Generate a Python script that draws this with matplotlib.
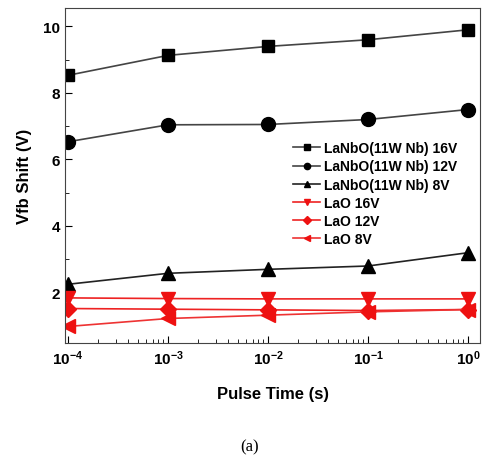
import matplotlib
matplotlib.use("Agg")
import matplotlib.pyplot as plt
from matplotlib.ticker import MultipleLocator, LogLocator, NullFormatter

pulse_time = [1e-4, 1e-3, 1e-2, 1e-1, 1e0]
lanbo_16 = [8.53, 9.13, 9.40, 9.60, 9.90]
lanbo_12 = [6.53, 7.04, 7.05, 7.20, 7.50]
lanbo_8 = [2.24, 2.57, 2.69, 2.79, 3.19]
lao_16 = [1.83, 1.81, 1.80, 1.80, 1.80]
lao_12 = [1.51, 1.49, 1.47, 1.45, 1.48]
lao_8 = [0.97, 1.21, 1.31, 1.41, 1.48]
labels = ["LaNbO(11W Nb) 16V", "LaNbO(11W Nb) 12V", "LaNbO(11W Nb) 8V",
          "LaO 16V", "LaO 12V", "LaO 8V"]

plt.rcParams['font.family'] = ['Liberation Sans', 'DejaVu Sans']

fig = plt.figure(figsize=(4.83, 4.60), dpi=100)
ax = fig.add_axes([0.1346, 0.252, 0.8592, 0.728])

series = [
    (lanbo_16, 's', '#000000', '#444444', 9),
    (lanbo_12, 'o', '#000000', '#444444', 10),
    (lanbo_8, '^', '#000000', '#222222', 10),
    (lao_16, 'v', '#ee1111', '#ee2222', 10),
    (lao_12, 'D', '#ee1111', '#ee2222', 8),
    (lao_8, '<', '#ee1111', '#ee3333', 10),
]
for (vals, m, mc, lc, ms), lab in zip(series, labels):
    ax.plot(pulse_time, vals, marker=m, color=lc, markerfacecolor=mc,
            markeredgecolor=mc, markersize=ms, linewidth=1.2, label=lab)

ax.set_xscale('log')
ax.set_xlim(10**-4.03, 10**0.12)
ax.set_ylim(0.47, 10.55)
ax.yaxis.set_major_locator(MultipleLocator(2))
ax.yaxis.set_minor_locator(MultipleLocator(1))
ax.xaxis.set_major_locator(LogLocator(base=10, numticks=10))
ax.xaxis.set_minor_locator(LogLocator(base=10, subs=range(2, 10), numticks=10))
ax.xaxis.set_minor_formatter(NullFormatter())
ax.tick_params(which='both', direction='in', top=False, right=False)
ax.tick_params(which='major', length=5, labelsize=11)
ax.tick_params(which='minor', length=3)
for lbl in ax.get_xticklabels() + ax.get_yticklabels():
    lbl.set_fontweight('bold')
for sp in ax.spines.values():
    sp.set_color('#444444')

ax.set_xlabel('Pulse Time (s)', fontsize=12, fontweight='bold', labelpad=14)
ax.set_ylabel('Vfb Shift (V)', fontsize=12, fontweight='bold', labelpad=8)

leg = ax.legend(loc='upper right', bbox_to_anchor=(0.975, 0.64), frameon=False,
                prop={'weight': 'bold', 'size': 10}, handlelength=1.9,
                markerscale=0.45, labelspacing=0.3, handletextpad=0.3)

fig.text(0.517, 0.027, '(a)', ha='center', va='center', fontsize=12,
         family=['Liberation Serif', 'DejaVu Serif'])

fig.savefig('out.png', dpi=100)
